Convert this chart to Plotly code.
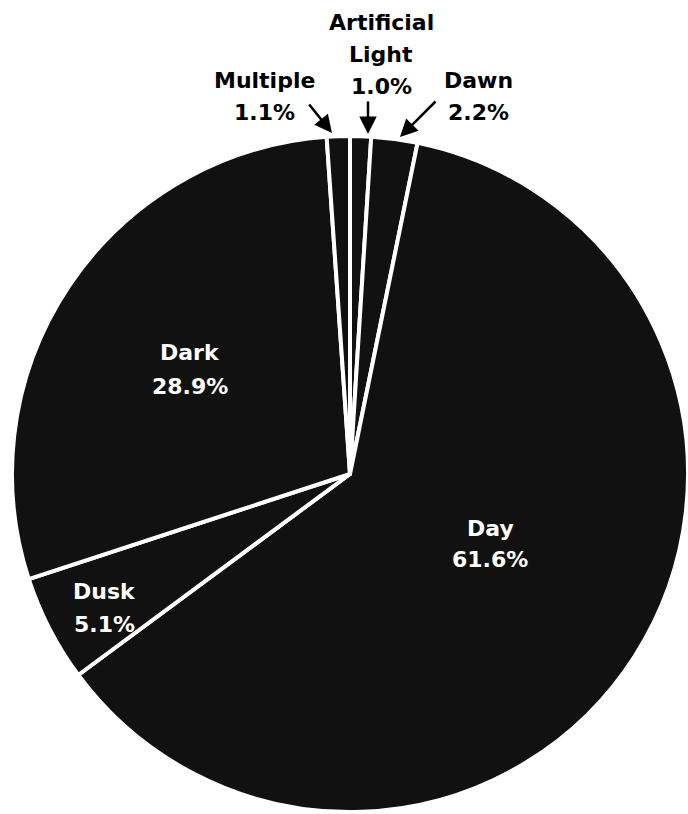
import plotly.graph_objects as go

# Share of incidents by light condition
categories = ["Artificial Light", "Dawn", "Day", "Dusk", "Dark", "Multiple"]
shares = [1.0, 2.2, 61.6, 5.1, 28.9, 1.1]

W, H = 688, 814
FONT = "DejaVu Sans"
PIE_FILL = "#111111"


def px(x):
    return x / W


def py(y):
    return 1 - y / H


fig = go.Figure(
    go.Pie(
        labels=categories,
        values=shares,
        sort=False,
        direction="clockwise",
        rotation=0,
        textinfo="none",
        hoverinfo="label+percent",
        marker=dict(colors=[PIE_FILL] * len(categories),
                    line=dict(color="white", width=4)),
        domain=dict(x=[12 / W, 1.0], y=[1 / H, 679 / H]),
        showlegend=False,
    )
)

share = dict(zip(categories, shares))


def label(lines, x, ys, color):
    for text, y in zip(lines, ys):
        fig.add_annotation(
            x=px(x), y=py(y), xref="paper", yref="paper",
            text=text, showarrow=False, xanchor="center", yanchor="middle",
            font=dict(family=FONT, size=22, color=color, weight="bold"),
        )


def pct(name):
    return f"{share[name]:.1f}%"


# labels inside the large slices
label(["Dark", pct("Dark")], 190, [353, 386], "white")
label(["Day", pct("Day")], 490, [528, 559], "white")
label(["Dusk", pct("Dusk")], 104, [591, 624], "white")

# labels above the thin slices
label(["Multiple", pct("Multiple")], 264, [80, 112], "black")
label(["Artificial", "Light", pct("Artificial Light")], 381, [23, 54, 87], "black")
label(["Dawn", pct("Dawn")], 478, [80, 112], "black")

# pointer arrows for the thin slices: (head x, head y, tail dx, tail dy)
pointers = [(332, 133, -24, -30), (368, 134, 0, -34), (400, 137, 37, -37)]
for hx, hy, dx, dy in pointers:
    fig.add_annotation(
        x=px(hx), y=py(hy), xref="paper", yref="paper", text="",
        showarrow=True, ax=dx, ay=dy, arrowhead=2, arrowsize=1.4,
        arrowwidth=2.5, arrowcolor="black", standoff=0,
    )

fig.update_layout(
    width=W, height=H,
    margin=dict(l=0, r=0, t=0, b=0),
    paper_bgcolor="white", plot_bgcolor="white",
)

fig.write_html("out.html")
